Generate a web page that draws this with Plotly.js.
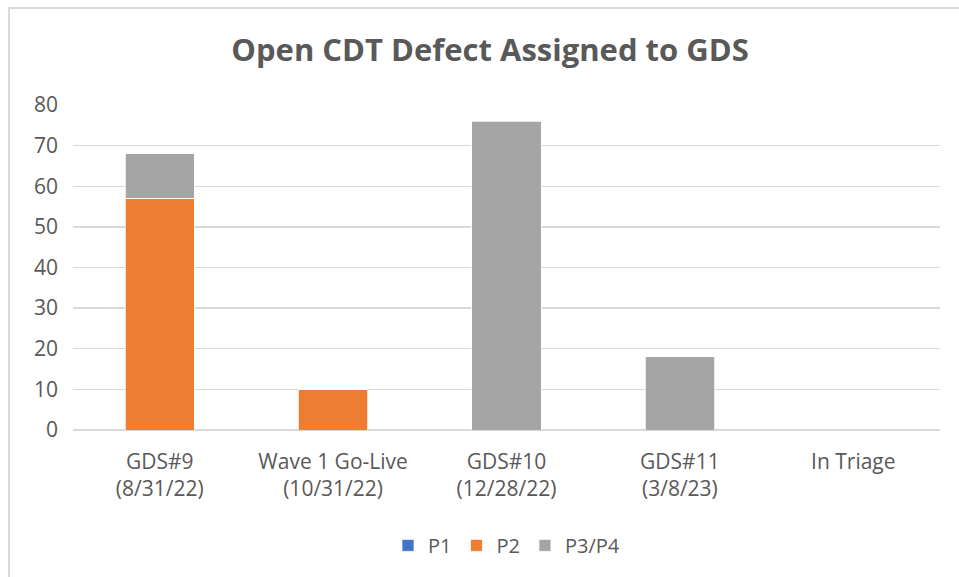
<!DOCTYPE html>
<html>
<head>
<meta charset="utf-8">
<script src="https://cdn.plot.ly/plotly-3.0.1.min.js"></script>
<style>
  html, body { margin: 0; padding: 0; background: #fff; }
  #chart { position: absolute; left: 0; top: 0; width: 959px; height: 577px; }
  #frame { position: absolute; left: 8px; top: 7px; width: 960px; height: 580px;
           border-left: 2px solid #d9d9d9; border-top: 2px solid #d9d9d9; pointer-events: none; }
</style>
</head>
<body>
<div id="chart"></div>
<div id="frame"></div>
<script>
const categories = ["GDS#9<br>(8/31/22)", "Wave 1 Go-Live<br>(10/31/22)", "GDS#10<br>(12/28/22)", "GDS#11<br>(3/8/23)", "In Triage"];
const p1Values = [0, 0, 0, 0, 0];
const p2Values = [57, 10, 0, 0, 0];
const p34Values = [11, 0, 76, 18, 0];

const FONT = "'Open Sans', sans-serif";
const barLine = { color: "#ffffff", width: 0.75 };

const traces = [
  { type: "bar", name: "P1", x: categories, y: p1Values, marker: { color: "#4472C4", line: barLine } },
  { type: "bar", name: "P2", x: categories, y: p2Values, marker: { color: "#ED7D31", line: barLine } },
  { type: "bar", name: "P3/P4", x: categories, y: p34Values, marker: { color: "#A5A5A5", line: barLine } }
];

const layout = {
  width: 959, height: 577,
  margin: { l: 73, r: 19, t: 105, b: 147 },
  paper_bgcolor: "#ffffff", plot_bgcolor: "#ffffff",
  barmode: "stack",
  bargap: 0.6,
  font: { family: FONT, color: "#595959", size: 20 },
  title: { text: "<b>Open CDT Defect Assigned to GDS</b>", font: { family: FONT, size: 31, color: "#595959" },
           x: 0.511, xanchor: "center", y: 0.913, yanchor: "middle" },
  xaxis: { type: "category", showgrid: false, zeroline: false, showline: false, ticks: "",
           tickfont: { family: FONT, size: 21, color: "#595959" }, ticklabelstandoff: 17 },
  yaxis: { range: [0, 80], dtick: 10, showgrid: true, gridcolor: "#d9d9d9", gridwidth: 1.3,
           zeroline: true, zerolinecolor: "#d9d9d9", zerolinewidth: 1.3, showline: false, ticks: "",
           tickfont: { family: FONT, size: 21, color: "#595959" }, ticklabelstandoff: 14 },
  legend: { orientation: "h", x: 0.5, xanchor: "center", y: -0.355, yanchor: "middle",
            font: { family: FONT, size: 20, color: "#595959" }, traceorder: "normal", itemwidth: 30 },
  showlegend: true
};

Plotly.newPlot("chart", traces, layout, { displayModeBar: false, staticPlot: true });
</script>
</body>
</html>
